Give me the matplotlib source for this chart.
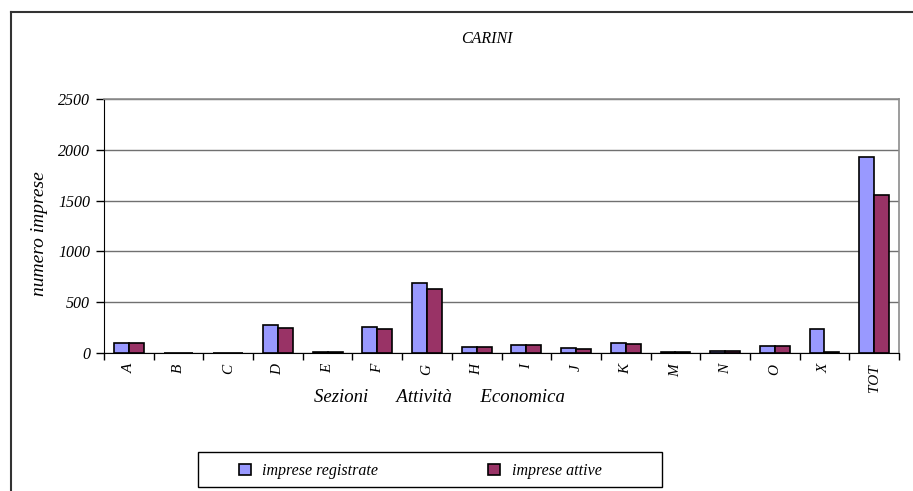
import matplotlib.pyplot as plt
import numpy as np

plt.rcParams['font.family'] = ['Liberation Serif', 'DejaVu Serif']

sezioni = ['A', 'B', 'C', 'D', 'E', 'F', 'G', 'H', 'I', 'J', 'K', 'M', 'N', 'O', 'X', 'TOT']
registrate = [103, 0, 0, 279, 8, 253, 686, 62, 82, 46, 102, 10, 18, 69, 233, 1929]
attive = [100, 0, 0, 246, 6, 233, 633, 56, 75, 44, 92, 10, 16, 66, 7, 1558]

W, H = 913, 491
fig = plt.figure(figsize=(W / 100, H / 100), dpi=100)
ax = fig.add_axes([0.1139, 0.2811, 0.8708, 0.5173])

x = np.arange(len(sezioni))
w = 0.3
ax.bar(x - w/2, registrate, width=w, color='#9999FF', edgecolor='black', linewidth=1.2,
       label='imprese registrate', zorder=3)
ax.bar(x + w/2, attive, width=w, color='#993366', edgecolor='black', linewidth=1.2,
       label='imprese attive', zorder=3)

ax.set_xlim(-0.5, len(sezioni) - 0.5)
ax.set_ylim(0, 2500)
ax.set_yticks(np.arange(0, 2501, 500))
ax.set_yticklabels([str(v) for v in range(0, 2501, 500)], fontsize=11.5, style='italic')
ax.set_xticks(x)
ax.set_xticklabels(sezioni, rotation=90, fontsize=11, style='italic')
ax.tick_params(axis='x', length=0, pad=8)
ax.set_xticks(np.arange(-0.5, len(sezioni)), minor=True)
ax.tick_params(axis='x', which='minor', length=5, direction='out', width=1)
ax.tick_params(axis='y', length=6, direction='out', width=1, pad=4)
ax.grid(axis='y', color='#707070', linewidth=1, zorder=0)

for s in ['top', 'right']:
    ax.spines[s].set_color('#8c8c8c')
    ax.spines[s].set_linewidth(1.2)
ax.spines['left'].set_color('black')
ax.spines['bottom'].set_color('black')

fig.text(439 / W, 1 - 397 / H, 'Sezioni      Attività      Economica', fontsize=13.5,
         style='italic', ha='center', va='center')
fig.text(40 / W, 1 - 234 / H, 'numero imprese', fontsize=14, style='italic',
         rotation=90, ha='center', va='center')
fig.text(487 / W, 1 - 39 / H, 'CARINI', fontsize=11.5, style='italic', ha='center', va='center')

# outer chart frame (left and top edges visible)
fig.add_artist(plt.Line2D([11 / W, 11 / W], [0.0, 1 - 12 / H], color='#333333', lw=1.5))
fig.add_artist(plt.Line2D([11 / W, 1.0], [1 - 12 / H, 1 - 12 / H], color='#333333', lw=1.5))

# legend box
fig.add_artist(plt.Rectangle((198 / W, 1 - 487 / H), 464 / W, 35 / H, transform=fig.transFigure,
                             facecolor='white', edgecolor='black', lw=1))
leg = fig.legend(loc='center left', bbox_to_anchor=(239 / W, 1 - 471 / H), ncol=2,
                 frameon=False, handlelength=0.75, handleheight=0.75, handletextpad=0.7,
                 columnspacing=6.9, borderpad=0, borderaxespad=0,
                 prop={'style': 'italic', 'size': 11.5})

fig.savefig('out.png', dpi=100)
